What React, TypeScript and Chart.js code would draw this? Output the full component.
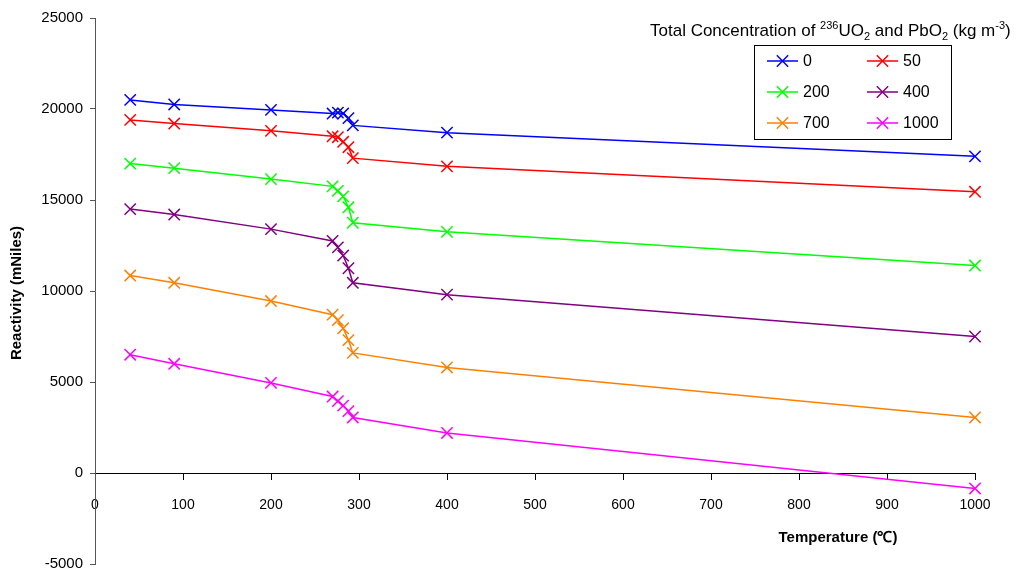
import React, { useEffect, useRef } from "react";
import { Chart, registerables } from "chart.js";

Chart.register(...registerables);

// Temperatures (°C) at which reactivity was computed
const temperatures = [40, 90, 200, 270, 276, 282, 288, 293, 400, 1000];

// Reactivity (mNiles) for each total concentration of 236UO2 and PbO2 (kg m-3)
const conc0 = [20500, 20250, 19950, 19750, 19800, 19750, 19500, 19100, 18700, 17400];
const conc50 = [19400, 19200, 18800, 18500, 18450, 18200, 17900, 17300, 16850, 15450];
const conc200 = [17000, 16750, 16150, 15750, 15500, 15200, 14600, 13750, 13250, 11400];
const conc400 = [14500, 14200, 13400, 12750, 12400, 11950, 11250, 10450, 9800, 7500];
const conc700 = [10850, 10450, 9450, 8700, 8400, 7950, 7300, 6600, 5800, 3050];
const conc1000 = [6500, 6000, 4950, 4200, 3950, 3700, 3400, 3050, 2200, -850];

const seriesLabels = ["0", "50", "200", "400", "700", "1000"];
const seriesValues = [conc0, conc50, conc200, conc400, conc700, conc1000];
const seriesColors = ["#0000FF", "#FF0000", "#00FF00", "#800080", "#FF8000", "#FF00FF"];

const yTicks = [-5000, 0, 5000, 10000, 15000, 20000, 25000];
const xTicks = [0, 100, 200, 300, 400, 500, 600, 700, 800, 900, 1000];

const FONT = "'Liberation Sans', Arial, sans-serif";
const MARKER_RADIUS = 8;

function drawCross(ctx: CanvasRenderingContext2D, x: number, y: number, r: number) {
  const d = Math.cos(Math.PI / 4) * r;
  ctx.beginPath();
  ctx.moveTo(x - d, y - d);
  ctx.lineTo(x + d, y + d);
  ctx.moveTo(x - d, y + d);
  ctx.lineTo(x + d, y - d);
  ctx.stroke();
}

const annotations = {
  id: "annotations",
  afterDraw(chart: Chart) {
    const ctx = chart.ctx;
    ctx.save();
    ctx.fillStyle = "#000";

    // Axis titles
    ctx.font = `bold 15px ${FONT}`;
    ctx.textAlign = "center";
    ctx.textBaseline = "middle";
    ctx.fillText("Temperature (\u2103)", 838, 538);
    ctx.save();
    ctx.translate(17, 293);
    ctx.rotate(-Math.PI / 2);
    ctx.fillText("Reactivity (mNiles)", 0, 0);
    ctx.restore();

    // Legend heading with super- and subscripts
    const parts: [string, number, number][] = [
      ["Total Concentration of ", 17, 0],
      ["236", 11, -7],
      ["UO", 17, 0],
      ["2", 11, 4],
      [" and PbO", 17, 0],
      ["2", 11, 4],
      [" (kg m", 17, 0],
      ["-3", 11, -7],
      [")", 17, 0],
    ];
    ctx.textAlign = "left";
    ctx.textBaseline = "alphabetic";
    let x = 650;
    const base = 36;
    for (const [t, size, dy] of parts) {
      ctx.font = `${size}px ${FONT}`;
      ctx.fillText(t, x, base + dy);
      x += ctx.measureText(t).width;
    }

    // Legend box
    ctx.strokeStyle = "#000";
    ctx.lineWidth = 1;
    ctx.strokeRect(754.5, 45.5, 197, 94);
    ctx.font = `16px ${FONT}`;
    ctx.textBaseline = "middle";
    seriesLabels.forEach((label, i) => {
      const col = i % 2;
      const row = Math.floor(i / 2);
      const x0 = 767 + col * 100;
      const y0 = 61 + row * 31;
      ctx.strokeStyle = seriesColors[i];
      ctx.lineWidth = 1.5;
      ctx.beginPath();
      ctx.moveTo(x0, y0);
      ctx.lineTo(x0 + 31, y0);
      ctx.stroke();
      drawCross(ctx, x0 + 15.5, y0, MARKER_RADIUS);
      ctx.fillStyle = "#000";
      ctx.fillText(label, x0 + 36, y0 + 1);
    });
    ctx.restore();
  },
};

export default function App() {
  const canvasRef = useRef<HTMLCanvasElement | null>(null);

  useEffect(() => {
    if (!canvasRef.current) return;
    const chart = new Chart(canvasRef.current, {
      type: "line",
      data: {
        datasets: seriesLabels.map((label, i) => ({
          label,
          data: temperatures.map((t, j) => ({ x: t, y: seriesValues[i][j] })),
          borderColor: seriesColors[i],
          backgroundColor: seriesColors[i],
          borderWidth: 1.5,
          pointStyle: "crossRot",
          pointRadius: MARKER_RADIUS,
          pointBorderWidth: 1.5,
          pointBorderColor: seriesColors[i],
          tension: 0,
          fill: false,
          clip: false,
        })),
      },
      options: {
        animation: false,
        responsive: false,
        devicePixelRatio: 1,
        layout: { padding: { left: 0, top: 18, right: 43, bottom: 10 } },
        plugins: {
          legend: { display: false },
          tooltip: { enabled: false },
          title: { display: false },
        },
        scales: {
          x: {
            type: "linear",
            position: { y: 0 },
            min: 0,
            max: 1000,
            afterBuildTicks: (scale: any) => {
              scale.ticks = xTicks.map((v) => ({ value: v }));
            },
            grid: {
              drawOnChartArea: false,
              drawTicks: true,
              tickLength: 6,
              color: "#000",
            },
            border: { display: true, color: "#000", width: 1 },
            ticks: {
              color: "#000",
              font: { family: FONT, size: 14 },
              padding: 18,
              maxRotation: 0,
              autoSkip: false,
              callback: (v: any) => String(v),
            },
          },
          y: {
            type: "linear",
            min: -5000,
            max: 25000,
            afterBuildTicks: (scale: any) => {
              scale.ticks = yTicks.map((v) => ({ value: v }));
            },
            afterFit: (scale: any) => {
              scale.width = 95;
            },
            grid: {
              drawOnChartArea: false,
              drawTicks: true,
              tickLength: 5,
              color: "#555",
            },
            border: { display: true, color: "#555", width: 1 },
            ticks: {
              color: "#000",
              font: { family: FONT, size: 15 },
              padding: 7,
              autoSkip: false,
              callback: (v: any) => String(v),
            },
          },
        },
      },
      plugins: [annotations],
    });
    return () => chart.destroy();
  }, []);

  return (
    <div style={{ position: "absolute", left: 0, top: 0, width: 1018, height: 580, background: "#fff" }}>
      <canvas ref={canvasRef} width={1018} height={580} />
    </div>
  );
}
